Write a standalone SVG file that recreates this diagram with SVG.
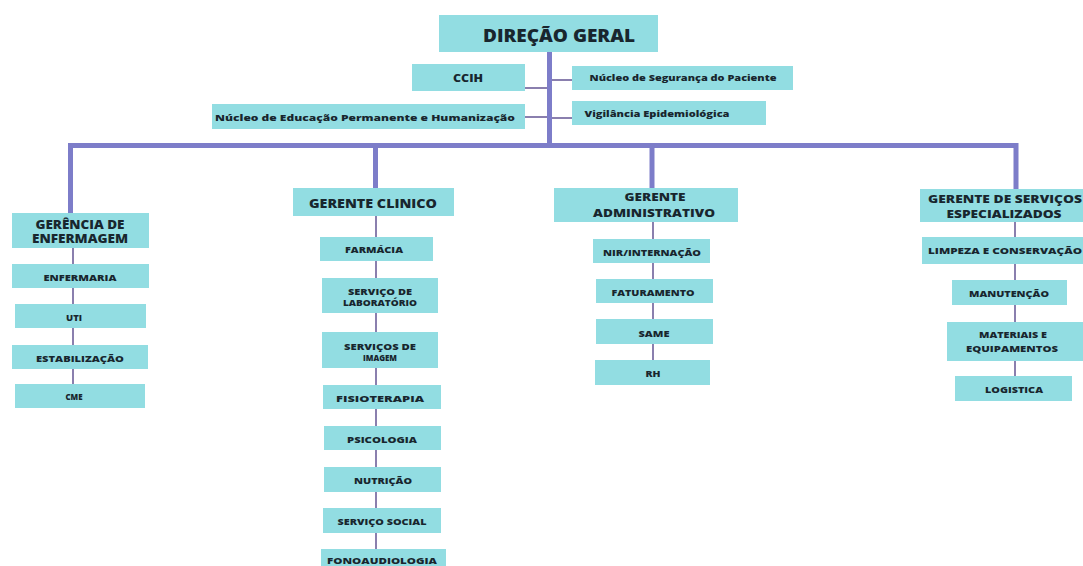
<svg xmlns="http://www.w3.org/2000/svg" width="1083" height="566" viewBox="0 0 1083 566">
<style>
.b{fill:#92dde2}
.t{font-family:"Open Sans","Liberation Sans",sans-serif;font-weight:800;fill:#18262e;text-anchor:middle}
.thick{stroke:#7d7dc9;stroke-width:5;fill:none}
.thin{stroke:#8a7fae;stroke-width:2;fill:none}
</style>
<rect width="1083" height="566" fill="#ffffff"/>
<g id="connectors">
<path class="thick" d="M549.5,52 V146"/>
<path class="thick" d="M70.5,213 V145.5 H1016 V189"/>
<path class="thick" d="M375.5,145 V188"/>
<path class="thick" d="M652,145 V188"/>
<path class="thin" d="M525,88 H547 M525,117 H547 M552,80 H572 M552,118 H572"/>
<path class="thin" d="M73,248 V384"/>
<path class="thin" d="M376,216 V549"/>
<path class="thin" d="M653,222 V360"/>
<path class="thin" d="M1015,222 V376"/>
</g>
<g id="direcao"><rect class="b" x="439" y="15" width="219" height="37"/><text class="t" x="559" y="42" font-size="17" textLength="152" lengthAdjust="spacingAndGlyphs">DIREÇÃO GERAL</text></g>
<g id="ccih"><rect class="b" x="412" y="64" width="113" height="27"/><text class="t" x="468" y="82" font-size="11" textLength="30" lengthAdjust="spacingAndGlyphs">CCIH</text></g>
<g id="educacao"><rect class="b" x="212" y="104" width="313" height="25"/><text class="t" x="365" y="121" font-size="9.5" textLength="300" lengthAdjust="spacingAndGlyphs">Núcleo de Educação Permanente e Humanização</text></g>
<g id="seguranca"><rect class="b" x="572" y="66" width="221" height="24"/><text class="t" x="683" y="81" font-size="9" textLength="187" lengthAdjust="spacingAndGlyphs">Núcleo de Segurança do Paciente</text></g>
<g id="vigilancia"><rect class="b" x="572" y="101" width="194" height="24"/><text class="t" x="657" y="117" font-size="9" textLength="145" lengthAdjust="spacingAndGlyphs">Vigilância Epidemiológica</text></g>

<g id="ger-enf"><rect class="b" x="12" y="213" width="137" height="35"/><text class="t" x="80" y="229" font-size="11.5" textLength="89" lengthAdjust="spacingAndGlyphs">GERÊNCIA DE</text><text class="t" x="80" y="243" font-size="11.5" textLength="96" lengthAdjust="spacingAndGlyphs">ENFERMAGEM</text></g>
<g id="enfermaria"><rect class="b" x="12" y="264" width="137" height="24"/><text class="t" x="80" y="281" font-size="9" textLength="73" lengthAdjust="spacingAndGlyphs">ENFERMARIA</text></g>
<g id="uti"><rect class="b" x="15" y="304" width="131" height="24"/><text class="t" x="74" y="321" font-size="9" textLength="16" lengthAdjust="spacingAndGlyphs">UTI</text></g>
<g id="estabilizacao"><rect class="b" x="12" y="345" width="136" height="24"/><text class="t" x="80" y="362" font-size="9" textLength="88" lengthAdjust="spacingAndGlyphs">ESTABILIZAÇÃO</text></g>
<g id="cme"><rect class="b" x="15" y="384" width="130" height="24"/><text class="t" x="74" y="400" font-size="9" textLength="17" lengthAdjust="spacingAndGlyphs">CME</text></g>

<g id="ger-clin"><rect class="b" x="293" y="188" width="161" height="28"/><text class="t" x="373" y="208" font-size="12.5" textLength="128" lengthAdjust="spacingAndGlyphs">GERENTE CLINICO</text></g>
<g id="farmacia"><rect class="b" x="320" y="237" width="113" height="24"/><text class="t" x="374" y="253" font-size="9" textLength="58" lengthAdjust="spacingAndGlyphs">FARMÁCIA</text></g>
<g id="laboratorio"><rect class="b" x="322" y="278" width="116" height="35"/><text class="t" x="380" y="295" font-size="8.5" textLength="64" lengthAdjust="spacingAndGlyphs">SERVIÇO DE</text><text class="t" x="380" y="306" font-size="8.5" textLength="74" lengthAdjust="spacingAndGlyphs">LABORATÓRIO</text></g>
<g id="imagem"><rect class="b" x="322" y="332" width="116" height="36"/><text class="t" x="380" y="350" font-size="8.5" textLength="72" lengthAdjust="spacingAndGlyphs">SERVIÇOS DE</text><text class="t" x="380" y="361" font-size="8.5" textLength="34" lengthAdjust="spacingAndGlyphs">IMAGEM</text></g>
<g id="fisioterapia"><rect class="b" x="323" y="385" width="118" height="24"/><text class="t" x="380" y="402" font-size="9" textLength="88" lengthAdjust="spacingAndGlyphs">FISIOTERAPIA</text></g>
<g id="psicologia"><rect class="b" x="324" y="426" width="117" height="24"/><text class="t" x="382" y="443" font-size="9" textLength="70" lengthAdjust="spacingAndGlyphs">PSICOLOGIA</text></g>
<g id="nutricao"><rect class="b" x="324" y="467" width="117" height="25"/><text class="t" x="383" y="484" font-size="9" textLength="58" lengthAdjust="spacingAndGlyphs">NUTRIÇÃO</text></g>
<g id="social"><rect class="b" x="323" y="508" width="118" height="25"/><text class="t" x="382" y="525" font-size="9" textLength="89" lengthAdjust="spacingAndGlyphs">SERVIÇO SOCIAL</text></g>
<g id="fono"><rect class="b" x="321" y="549" width="125" height="20"/><text class="t" x="382" y="564" font-size="9" textLength="110" lengthAdjust="spacingAndGlyphs">FONOAUDIOLOGIA</text></g>

<g id="ger-adm"><rect class="b" x="554" y="188" width="184" height="34"/><text class="t" x="655" y="201" font-size="11" textLength="61" lengthAdjust="spacingAndGlyphs">GERENTE</text><text class="t" x="654" y="217" font-size="11" textLength="122" lengthAdjust="spacingAndGlyphs">ADMINISTRATIVO</text></g>
<g id="nir"><rect class="b" x="593" y="239" width="117" height="24"/><text class="t" x="652" y="256" font-size="9" textLength="98" lengthAdjust="spacingAndGlyphs">NIR/INTERNAÇÃO</text></g>
<g id="faturamento"><rect class="b" x="596" y="279" width="117" height="24"/><text class="t" x="653" y="296" font-size="9" textLength="83" lengthAdjust="spacingAndGlyphs">FATURAMENTO</text></g>
<g id="same"><rect class="b" x="596" y="319" width="117" height="25"/><text class="t" x="654" y="337" font-size="9" textLength="31" lengthAdjust="spacingAndGlyphs">SAME</text></g>
<g id="rh"><rect class="b" x="595" y="360" width="115" height="25"/><text class="t" x="653" y="377" font-size="9" textLength="15" lengthAdjust="spacingAndGlyphs">RH</text></g>

<g id="ger-esp"><rect class="b" x="920" y="189" width="163" height="33"/><text class="t" x="1005" y="203" font-size="11" textLength="154" lengthAdjust="spacingAndGlyphs">GERENTE DE SERVIÇOS</text><text class="t" x="1004" y="218" font-size="11" textLength="115" lengthAdjust="spacingAndGlyphs">ESPECIALIZADOS</text></g>
<g id="limpeza"><rect class="b" x="922" y="237" width="161" height="27"/><text class="t" x="1005" y="254" font-size="9" textLength="154" lengthAdjust="spacingAndGlyphs">LIMPEZA E CONSERVAÇÃO</text></g>
<g id="manutencao"><rect class="b" x="952" y="280" width="115" height="25"/><text class="t" x="1009" y="297" font-size="9" textLength="80" lengthAdjust="spacingAndGlyphs">MANUTENÇÃO</text></g>
<g id="materiais"><rect class="b" x="947" y="322" width="136" height="39"/><text class="t" x="1013" y="338" font-size="9" textLength="68" lengthAdjust="spacingAndGlyphs">MATERIAIS E</text><text class="t" x="1012" y="352" font-size="9" textLength="92" lengthAdjust="spacingAndGlyphs">EQUIPAMENTOS</text></g>
<g id="logistica"><rect class="b" x="955" y="376" width="117" height="25"/><text class="t" x="1014" y="393" font-size="9" textLength="58" lengthAdjust="spacingAndGlyphs">LOGISTICA</text></g>
</svg>
